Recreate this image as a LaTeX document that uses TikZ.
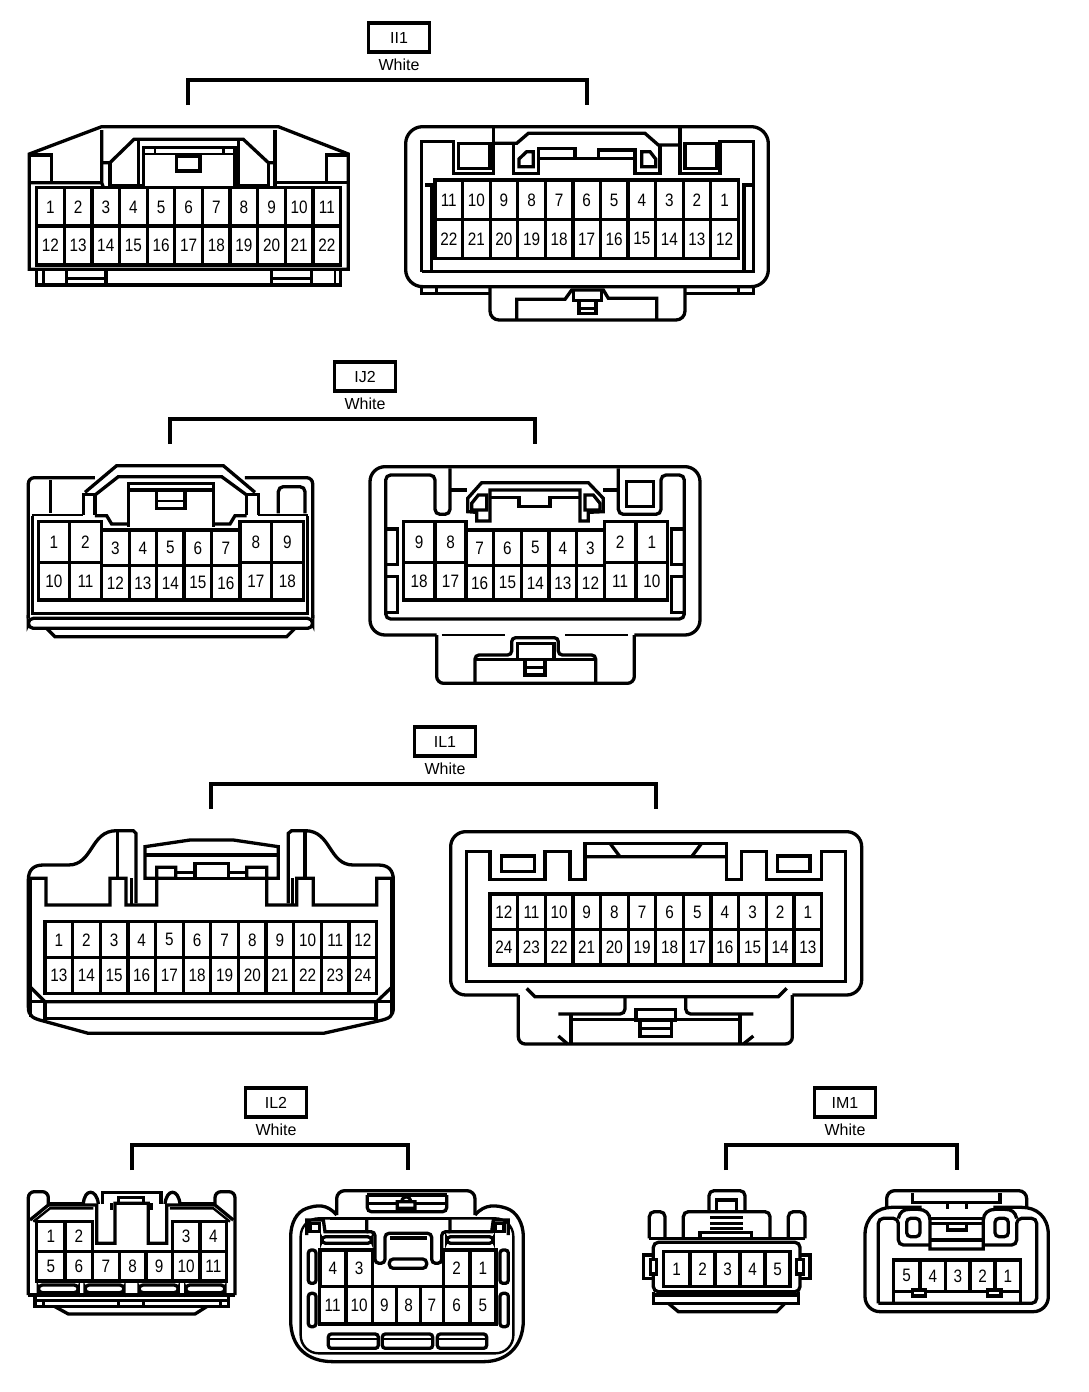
\documentclass[tikz,border=0pt]{standalone}
\usepackage{fontspec}
\setmainfont{Liberation Sans}
\newfontfamily\pinfont[FakeStretch=0.85]{Liberation Sans}
\tikzset{
  wire/.style={line width=3.3pt,black},
  thinwire/.style={line width=2.4pt,black},
  zoomed/.style 2 args={shift={(#1,#2)},x=.33333pt,y=-.33333pt},
  pinlabel/.style={inner sep=0pt,font=\pinfont\fontsize{18}{18}\selectfont},
  tagbox/.style={draw,line width=3.2pt,minimum width=61pt,minimum height=29pt,inner sep=0pt,font=\fontsize{16}{16}\selectfont},
  colourlabel/.style={inner sep=0pt,font=\fontsize{16}{16}\selectfont},
  bracket/.style={line width=3.6pt,black}
}
% a row of explicit cells, x0/x1/label
\newcommand{\pinrow}[4]{\foreach \xa/\xb/\lab in {#4}{%
  \draw[wire] (\xa,#2) rectangle (\xb,#3);
  \node[pinlabel] (#1-\lab) at ({(\xa+\xb)/2},{(#2+#3)/2}) {\lab};}}
% regular two-row grid: prefix,x0,x1,n,y0,ymid,y1,mirrored(0/1)
\newcommand{\pingrid}[8]{\foreach \ii in {1,...,#4}{%
  \pgfmathsetmacro{\xa}{#2+(\ii-1)*(#3-#2)/#4}
  \pgfmathsetmacro{\xb}{#2+\ii*(#3-#2)/#4}
  \pgfmathtruncatemacro{\la}{#8==0 ? \ii : #4+1-\ii}
  \pgfmathtruncatemacro{\lb}{\la+#4}
  \draw[wire] (\xa,#5) rectangle (\xb,#6);
  \draw[wire] (\xa,#6) rectangle (\xb,#7);
  \node[pinlabel] (#1-\la) at ({(\xa+\xb)/2},{(#5+#6)/2+1}) {\la};
  \node[pinlabel] (#1-\lb) at ({(\xa+\xb)/2},{(#6+#7)/2}) {\lb};}}
% header: name,cx,box y,bracket x0,x1,bracket y
\newcommand{\header}[6]{%
  \node[tagbox] (#1) at (#2,#3) {#1};
  \node[colourlabel] (#1-colour) at (#2,#3+27) {White};
  \coordinate (#1-a) at (#4,#6+25);
  \coordinate (#1-b) at (#5,#6+25);
  \draw[bracket] (#1-a) -- (#4,#6) -- (#5,#6) -- (#1-b);}
\begin{document}
\begin{tikzpicture}[x=1pt,y=-1pt]
\path[use as bounding box,fill=white] (0,0) rectangle (1088,1392);
\header{II1}{399}{37.5}{188}{587}{80}
\header{IJ2}{365}{376.5}{170}{535}{419}
\header{IL1}{445}{741.5}{211}{656}{784}
\header{IL2}{276}{1102.5}{132}{408}{1145}
\header{IM1}{845}{1102.5}{726}{957}{1145}

% II1 left
\begin{scope}[zoomed={0}{110}]
\draw[wire] (88,478) -- (88,132) -- (305,50) -- (835,50) -- (1045,132) -- (1045,478) -- cycle;
\draw[wire] (110,478) -- (110,525) -- (1022,525) -- (1022,478);
\draw[thinwire] (130,478) -- (130,525) (1005,478) -- (1005,525);
\draw[wire] (200,478) -- (200,525) (318,478) -- (318,525) (815,478) -- (815,525) (935,478) -- (935,525);
\draw[thinwire] (200,505) -- (318,505) (815,505) -- (935,505);
\draw[wire] (88,135) -- (155,135) -- (155,218) (1045,135) -- (980,135) -- (980,218);
\draw[wire] (88,218) -- (305,218) -- (305,60) (305,218) -- (310,232);
\draw[wire] (1045,218) -- (825,218) -- (825,60) (825,218) -- (825,232);
\draw[wire] (305,158) -- (330,158) -- (402,88) -- (730,88) -- (805,158) -- (825,158);
\draw[wire] (330,158) -- (330,228) -- (430,228) (805,158) -- (805,228) -- (705,228);
\draw[thinwire] (415,88) -- (415,225) (715,88) -- (715,225);
\draw[wire] (430,228) -- (430,112) -- (705,112) -- (705,228);
\draw[thinwire] (430,132) -- (705,132) (465,112) -- (465,132) (670,112) -- (670,132);
\draw[wire] (530,140) -- (530,183) -- (600,183) -- (600,140) -- cycle;
\pingrid{a}{110}{1022}{11}{232}{348}{465}{0}
\end{scope}

% II1 right
\begin{scope}[zoomed={390}{110}]
\draw[wire,rounded corners=17pt] (47,50) rectangle (1135,530);
\draw[wire] (95,485) -- (95,95) -- (190,95) -- (190,190) -- (310,190) -- (310,52);
\draw[wire] (310,100) -- (380,100) -- (415,70) -- (765,70) -- (805,105) -- (870,105);
\draw[wire] (370,105) -- (370,190) -- (445,190) -- (445,115) -- (555,115) -- (555,145) -- (625,145) -- (625,120) -- (735,120) -- (735,190) -- (810,190) -- (810,105);
\draw[wire] (870,52) -- (870,190) -- (990,190) -- (990,95) -- (1090,95) -- (1090,485) -- (95,485);
\draw[wire] (445,145) -- (735,145);
\draw[wire] (205,100) rectangle (300,175) (885,100) rectangle (980,175);
\draw[wire] (387,170) -- (387,147) -- (410,125) -- (430,125) -- (430,170) -- cycle;
\draw[wire] (755,125) -- (780,125) -- (797,147) -- (797,170) -- (755,170) -- cycle;
\pingrid{b}{135}{1045}{11}{210}{328}{445}{1}
\draw[wire] (105,225) -- (125,225) -- (125,485) (1085,225) -- (1062,225) -- (1062,485);
\draw[wire] (95,530) -- (95,550) -- (300,550) (1090,530) -- (1090,550) -- (885,550);
\draw[thinwire] (140,532) -- (140,550) (1045,532) -- (1045,550);
\draw[wire,rounded corners=9pt] (300,532) -- (300,630) -- (885,630) -- (885,532);
\draw[wire] (380,630) -- (380,568) -- (525,568) -- (545,540) -- (640,540) -- (655,565) -- (800,565) -- (800,630);
\draw[wire] (550,540) -- (550,572) -- (635,572) -- (635,540);
\draw[wire] (567,572) -- (567,610) -- (618,610) -- (618,572);
\draw[thinwire] (567,595) -- (618,595);
\end{scope}

% IJ2 left
\begin{scope}[zoomed={10}{455}]
\draw[wire,rounded corners=6pt] (55,490) -- (55,68) -- (255,68);
\draw[wire,rounded corners=6pt] (705,68) -- (908,68) -- (908,490);
\draw[wire] (225,112) -- (320,32) -- (640,32) -- (735,112);
\draw[wire] (255,120) -- (325,65) -- (635,65) -- (710,120);
\draw[wire] (220,180) -- (220,118) -- (255,118) -- (255,180);
\draw[wire] (710,180) -- (710,118) -- (745,118) -- (745,180);
\draw[wire] (122,75) -- (122,175);
\draw[wire,rounded corners=5pt] (805,175) -- (805,95) -- (885,95) -- (885,175);
\draw[thinwire] (65,180) -- (220,180) (745,180) -- (895,180);
\draw[wire] (68,182) -- (68,475) -- (893,475) -- (893,182);
\draw[wire] (355,215) -- (355,85) -- (610,85) -- (610,215);
\draw[wire] (360,105) -- (605,105);
\draw[wire] (440,112) -- (440,160) -- (525,160) -- (525,112);
\draw[thinwire] (440,138) -- (525,138);
\draw[wire] (255,182) -- (290,182) -- (305,207) -- (355,207);
\draw[wire] (610,207) -- (660,207) -- (675,182) -- (710,182);
\pinrow{c}{200}{322}{85/178/1,178/275/2,690/785/8,785/880/9}
\pinrow{c}{322}{435}{85/178/10,178/275/11,690/785/17,785/880/18}
\pinrow{c}{225}{332}{275/358/3,358/440/4,440/522/5,522/605/6,605/690/7}
\pinrow{c}{332}{435}{275/358/12,358/440/13,440/522/14,522/605/15,605/690/16}
\draw[wire,rounded corners=5pt] (55,490) -- (55,520) -- (908,520) -- (908,490) -- cycle;
\draw[wire] (110,520) -- (135,545) -- (830,545) -- (855,520);
\end{scope}

% IJ2 right
\begin{scope}[zoomed={355}{455}]
\draw[wire,rounded corners=15pt] (245,540) -- (45,540) -- (45,35) -- (1035,35) -- (1035,540) -- (838,540);
\draw[wire,rounded corners=7pt] (245,540) -- (245,685) -- (838,685) -- (838,540);
\draw[thinwire] (260,540) -- (450,540) (630,540) -- (820,540);
\draw[wire,rounded corners=4pt] (360,685) -- (360,600) -- (470,600) -- (470,548) -- (610,548) -- (610,600) -- (722,600) -- (722,685);
\draw[wire] (360,614) -- (722,614);
\draw[wire] (488,612) -- (488,565) -- (597,565) -- (597,612);
\draw[wire] (510,614) rectangle (570,660);
\draw[thinwire] (510,637) -- (570,637);
\draw[wire,rounded corners=5pt] (285,40) -- (285,178) -- (240,178) -- (240,60) -- (92,60) -- (92,492) -- (988,492) -- (988,60) -- (918,60) -- (918,178) -- (790,178) -- (790,40);
\draw[wire] (285,105) -- (335,105) (745,105) -- (790,105);
\draw[wire] (338,170) -- (338,130) -- (380,83) -- (700,83) -- (745,130) -- (745,170) -- (700,172) -- (700,198) -- (675,198) -- (675,105) -- (405,105) -- (405,198) -- (365,198) -- (365,172) -- cycle;
\draw[wire] (350,165) -- (350,145) -- (370,120) -- (395,120) -- (395,165) -- cycle;
\draw[wire] (690,120) -- (715,120) -- (735,145) -- (735,165) -- (690,165) -- cycle;
\draw[wire] (405,128) -- (492,128) -- (492,155) -- (585,155) -- (585,128) -- (675,128);
\draw[wire] (815,80) rectangle (895,155);
\draw[wire] (92,222) -- (128,222) -- (128,328) -- (92,328) (92,365) -- (128,365) -- (128,472) -- (92,472);
\draw[wire] (988,222) -- (950,222) -- (950,328) -- (988,328) (988,365) -- (950,365) -- (950,472) -- (988,472);
\pinrow{d}{200}{322}{145/240/9,240/333/8,748/843/2,843/938/1}
\pinrow{d}{322}{435}{145/240/18,240/333/17,748/843/11,843/938/10}
\pinrow{d}{225}{332}{333/415/7,415/500/6,500/582/5,582/665/4,665/748/3}
\pinrow{d}{332}{435}{333/415/16,415/500/15,500/582/14,582/665/13,665/748/12}
\end{scope}

% IL1 left
\begin{scope}[zoomed={10}{820}]
\draw[wire] (378,250) -- (378,40) -- (370,32) -- (320,32) .. controls (240,32) and (250,135) .. (175,135) -- (100,135) .. controls (70,135) and (55,150) .. (55,180) -- (55,560) .. controls (55,590) and (70,595) .. (100,603) -- (235,640) -- (940,640) -- (1105,603) .. controls (1140,595) and (1150,590) .. (1150,560) -- (1150,180) .. controls (1150,150) and (1135,135) .. (1105,135) -- (1030,135) .. controls (955,135) and (965,32) .. (885,32) -- (845,32) -- (835,40) -- (835,250);
\draw[wire] (323,32) -- (323,175) (885,32) -- (885,175);
\draw[wire] (365,175) -- (365,255) (848,175) -- (848,255);
\draw[wire] (55,175) -- (108,175) -- (108,255) -- (300,255) -- (300,175) -- (348,175) -- (348,255) -- (440,255) -- (440,142) -- (497,142) -- (497,175) -- (405,175) -- (405,80) -- (540,60) -- (670,60) -- (805,80) -- (805,175) -- (710,175) -- (710,142) -- (770,142) -- (770,255) -- (860,255) -- (860,175) -- (910,175) -- (910,255) -- (1100,255) -- (1100,175) -- (1150,175);
\draw[wire] (405,105) -- (805,105);
\draw[thinwire] (497,157) -- (555,157) (655,157) -- (710,157);
\draw[wire] (497,175) -- (710,175) (555,175) -- (555,130) -- (655,130) -- (655,175);
\draw[thinwire] (62,175) -- (62,590) (1143,175) -- (1143,590);
\pingrid{e}{105}{1100}{12}{305}{412}{520}{0}
\draw[wire] (60,500) -- (105,545) -- (1100,545) -- (1147,500);
\draw[wire] (60,545) -- (1147,545);
\draw[wire] (105,545) -- (105,595) -- (1098,595) -- (1098,545);
\end{scope}

% IL1 right
\begin{scope}[zoomed={435}{820}]
\draw[wire,rounded corners=15pt] (250,525) -- (47,525) -- (47,35) -- (1280,35) -- (1280,525) -- (1072,525);
\draw[wire,rounded corners=7pt] (250,525) -- (250,672) -- (1072,672) -- (1072,525);
\draw[wire] (95,95) -- (165,95) -- (165,178) -- (330,178) -- (330,95) -- (405,95) -- (405,178) -- (450,178) -- (450,70) -- (875,70) -- (875,178) -- (920,178) -- (920,95) -- (995,95) -- (995,178) -- (1160,178) -- (1160,95) -- (1232,95) -- (1232,485) -- (95,485) -- cycle;
\draw[wire] (450,110) -- (875,110) (525,70) -- (555,110) (800,70) -- (770,110);
\draw[wire] (200,108) rectangle (298,155) (1027,108) rectangle (1125,155);
\pingrid{f}{165}{1160}{12}{222}{328}{435}{1}
\draw[wire] (275,505) -- (300,530) -- (1030,530) -- (1055,505);
\draw[wire,rounded corners=5pt] (570,530) -- (570,582) -- (370,582);
\draw[wire,rounded corners=5pt] (752,530) -- (752,582) -- (955,582);
\draw[wire] (408,582) -- (408,672) (915,582) -- (915,672) (408,598) -- (605,598) (720,598) -- (915,598);
\draw[wire] (370,648) -- (398,672) (955,648) -- (925,672);
\draw[wire] (603,600) -- (603,568) -- (722,568) -- (722,600) -- cycle;
\draw[wire] (615,600) -- (615,650) -- (710,650) -- (710,600);
\draw[thinwire] (615,625) -- (710,625);
\end{scope}

% IL2 left
\begin{scope}[zoomed={15}{1180}]
\draw[wire,rounded corners=6pt] (40,345) -- (40,35) -- (100,35) -- (100,72);
\draw[wire,rounded corners=6pt] (660,345) -- (660,35) -- (600,35) -- (600,72);
\draw[wire] (205,72) .. controls (208,25) and (245,25) .. (250,72);
\draw[wire] (450,72) .. controls (455,25) and (490,25) .. (495,72);
\draw[wire] (100,72) -- (205,72) (495,72) -- (600,72);
\draw[wire] (45,120) -- (100,75) -- (245,75) -- (245,190) -- (300,190) -- (300,70) -- (400,70) -- (400,190) -- (455,190) -- (455,75) -- (600,75) -- (655,120);
\draw[thinwire] (55,125) -- (105,85) -- (235,85) (645,125) -- (595,85) -- (465,85);
\draw[wire] (262,72) -- (262,38) -- (438,38) -- (438,72);
\draw[wire] (290,70) -- (290,90) (410,70) -- (410,90);
\draw[wire] (310,70) -- (310,52) -- (385,52) -- (385,70);
\draw[wire] (40,345) -- (660,345);
\pinrow{g}{125}{215}{65/150/1,150/233/2,472/555/3,555/635/4}
\pinrow{g}{215}{303}{65/150/5,150/233/6,233/313/7,313/393/8,393/472/9,472/555/10,555/635/11}
\foreach \sa/\sb in {70/190,210/327,372/490,512/630}
  \draw[wire,rounded corners=4pt] (\sa,315) rectangle (\sb,338);
\draw[wire] (60,345) -- (60,380) -- (640,380) -- (640,345);
\draw[thinwire] (60,362) -- (640,362) (85,362) -- (85,380) (617,362) -- (617,380) (310,362) -- (310,380) (385,362) -- (385,380);
\draw[wire] (120,380) -- (160,402) -- (540,402) -- (575,380);
\end{scope}

% IL2 right
\begin{scope}[zoomed={280}{1180}]
\draw[wire,rounded corners=8pt] (170,105) -- (170,32) -- (585,32) -- (585,105);
\draw[wire] (170,105) .. controls (140,70) and (110,75) .. (80,85) .. controls (50,95) and (32,130) .. (32,170) -- (32,420) .. controls (32,500) and (80,545) .. (160,545) -- (610,545) .. controls (680,545) and (730,500) .. (730,420) -- (730,170) .. controls (730,130) and (710,95) .. (680,85) .. controls (650,75) and (615,70) .. (585,105);
\draw[thinwire,rounded corners=18pt] (262,115) -- (62,115) -- (62,520) -- (700,520) -- (700,115) -- (510,115);
\draw[wire] (150,115) -- (510,115);
\draw[wire] (90,130) rectangle (118,155) (645,130) rectangle (672,155);
\draw[wire] (80,165) -- (80,120) -- (130,120) -- (135,155) -- (260,155) -- (260,115);
\draw[wire] (510,115) -- (510,155) -- (635,155) -- (640,120) -- (685,120) -- (685,165);
\draw[wire,rounded corners=4pt] (125,170) rectangle (275,190) (500,170) rectangle (640,190) (328,237) rectangle (440,265);
\draw[wire,rounded corners=3pt] (85,210) rectangle (108,310) (85,340) rectangle (108,440) (660,210) rectangle (685,310) (660,340) rectangle (685,440);
\draw[wire,rounded corners=4pt] (260,155) -- (285,155) -- (285,250) -- (315,250) -- (315,160) -- (455,160) -- (455,250) -- (485,250) -- (485,155) -- (510,155);
\draw[wire] (330,174) -- (440,174);
\draw[wire,rounded corners=4pt] (262,45) -- (262,95) -- (500,95) -- (500,45);
\draw[wire] (262,45) -- (500,45) (262,70) -- (352,70) (405,70) -- (500,70);
\draw[wire] (352,85) -- (352,65) -- (405,65) -- (405,85) -- cycle (365,65) .. controls (368,45) and (390,45) .. (392,65);
\pinrow{h}{210}{320}{120/198/4,198/277/3,490/570/2,570/648/1}
\pinrow{h}{320}{432}{118/198/11,198/277/10,277/350/9,350/422/8,422/490/7,490/570/6,570/648/5}
\draw[wire,rounded corners=3pt] (145,505) -- (145,462) -- (295,462) -- (295,505) -- cycle;
\draw[wire,rounded corners=3pt] (307,505) -- (307,462) -- (458,462) -- (458,505) -- cycle;
\draw[wire,rounded corners=3pt] (472,505) -- (472,462) -- (620,462) -- (620,505) -- cycle;
\draw[thinwire] (150,477) -- (290,477) (312,477) -- (453,477) (477,477) -- (615,477);
\end{scope}

% IM1 left
\begin{scope}[zoomed={630}{1180}]
\draw[wire,rounded corners=5pt] (237,95) -- (237,32) -- (345,32) -- (345,95);
\draw[wire] (260,95) -- (260,60) -- (320,60) -- (320,95);
\draw[thinwire] (240,112) -- (340,112) (240,130) -- (340,130) (240,145) -- (340,145);
\draw[wire,rounded corners=5pt] (160,175) -- (160,95) -- (420,95) -- (420,175);
\draw[wire] (210,172) -- (210,157) -- (365,157) -- (365,172);
\draw[wire,rounded corners=5pt] (58,175) -- (58,95) -- (105,95) -- (105,175);
\draw[wire,rounded corners=5pt] (475,175) -- (475,95) -- (525,95) -- (525,175);
\draw[wire] (58,175) -- (525,175);
\draw[wire,rounded corners=5pt] (70,335) -- (70,187) -- (510,187) -- (510,335) -- cycle;
\pinrow{i}{215}{320}{100/180/1,180/255/2,255/330/3,330/405/4,405/480/5}
\draw[wire] (70,345) -- (510,345);
\draw[wire] (70,335) -- (70,370) -- (505,370) -- (505,335);
\draw[wire] (115,370) -- (145,395) -- (440,395) -- (465,370);
\draw[wire] (70,225) -- (40,225) -- (40,295) -- (70,295) (510,225) -- (540,225) -- (540,295) -- (510,295);
\draw[wire,fill=white] (62,238) rectangle (80,282) (500,238) rectangle (520,282);
\end{scope}

% IM1 right
\begin{scope}[zoomed={855}{1180}]
\draw[wire,rounded corners=8pt] (95,82) -- (95,32) -- (515,32) -- (515,82);
\draw[wire] (172,40) -- (172,68) -- (435,68) -- (435,40) (278,68) -- (278,88) (335,68) -- (335,88);
\draw[wire] (30,350) -- (30,165) .. controls (30,110) and (70,82) .. (110,82) -- (200,82) (415,82) -- (500,82) .. controls (545,82) and (580,110) .. (580,165) -- (580,350) .. controls (580,375) and (560,395) .. (535,395) -- (75,395) .. controls (50,395) and (30,375) .. (30,350);
\draw[wire] (130,115) .. controls (135,95) and (145,88) .. (165,88) -- (190,88) .. controls (210,88) and (225,100) .. (225,120) -- (225,207) -- (385,207) -- (385,120) .. controls (385,100) and (400,88) .. (420,88) -- (450,88) .. controls (470,88) and (480,95) .. (485,115);
\draw[wire] (225,115) -- (385,115) (225,130) -- (385,130) (225,180) -- (385,180);
\draw[wire] (278,130) -- (278,150) -- (335,150) -- (335,130);
\draw[wire,rounded corners=5pt] (70,370) -- (70,115) -- (130,115) -- (130,195) -- (225,195);
\draw[wire,rounded corners=5pt] (385,195) -- (485,195) -- (485,115) -- (545,115) -- (545,370) -- (70,370);
\draw[wire,rounded corners=4pt] (155,115) rectangle (195,170) (420,115) rectangle (460,170);
\pinrow{j}{240}{335}{115/195/5,195/272/4,272/345/3,345/420/2,420/497/1}
\draw[wire] (115,335) -- (115,368) (497,335) -- (497,368);
\draw[wire,fill=white] (172,330) rectangle (212,348) (398,330) rectangle (438,348);
\end{scope}
\end{tikzpicture}
\end{document}
